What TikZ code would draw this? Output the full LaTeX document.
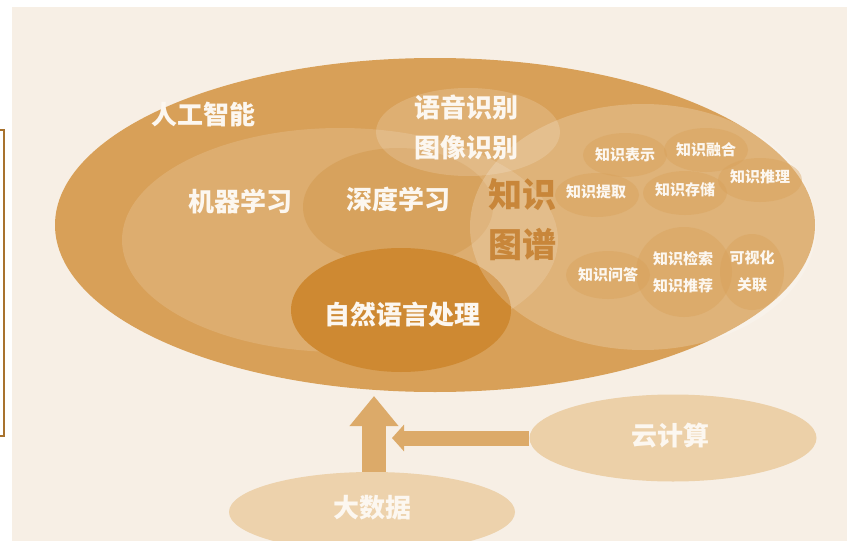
\documentclass[tikz,border=0pt]{standalone}
\usepackage{fontspec}
\newfontfamily\cjk{Noto Sans CJK SC}
\usepackage{xcolor}
\usepackage{tikz}
\usetikzlibrary{arrows.meta,positioning,shapes.geometric}
\definecolor{aiBg}{HTML}{F7EFE5}
\definecolor{aiMain}{HTML}{D8A058}
\definecolor{aiDeep}{HTML}{CF9244}
\definecolor{aiNlp}{HTML}{CE8932}
\definecolor{aiKgText}{HTML}{C8863A}
\definecolor{aiPale}{HTML}{ECD0A8}
\definecolor{aiArrow}{HTML}{DCAA69}
\definecolor{aiFrame}{HTML}{A8722E}
\definecolor{aiText}{HTML}{FCF7F0}
\tikzset{
  oval/.style={ellipse,draw=none,inner sep=0pt},
  lightoval/.style={oval,fill=white,fill opacity=0.14},
  blob/.style={oval,fill=aiMain,fill opacity=0.4},
  ttl/.style={font=\cjk\bfseries\fontsize{26}{40}\selectfont,
    text=aiText,align=center,inner sep=0pt},
  kgttl/.style={font=\cjk\bfseries\fontsize{34}{50}\selectfont,
    text=aiKgText,align=center,inner sep=0pt},
  sml/.style={font=\cjk\bfseries\fontsize{15}{27}\selectfont,
    text=aiText,align=center,inner sep=0pt},
  uparr/.style={-{Triangle[length=30pt,width=47pt]},line width=24pt,draw=aiArrow},
  sidearr/.style={-{Triangle[length=12pt,width=26pt]},line width=15pt,draw=aiArrow},
}
\begin{document}
\begin{tikzpicture}[x=1pt,y=-1pt]
  \useasboundingbox (0,0) rectangle (847,541);
  \fill[white] (0,0) rectangle (847,541);
  \fill[aiBg] (12,7) rectangle (847,541);
  \draw[aiFrame,line width=1.5pt] (0,130) -- (4,130) -- (4,436) -- (0,436);

  % big ellipses
  \node[oval,fill=aiMain,minimum width=760pt,minimum height=334pt] (ai) at (435,225) {};
  \node[lightoval,minimum width=436pt,minimum height=224pt] (ml) at (340,240) {};
  \node[oval,fill=aiDeep,fill opacity=0.4,minimum width=190pt,minimum height=118pt] (dl) at (398,207) {};
  \node[oval,fill=aiNlp,minimum width=220pt,minimum height=124pt] (nlp) at (401,310) {};
  \node[oval,fill=white,fill opacity=0.2,minimum width=346pt,minimum height=246pt] (kg) at (643,227) {};
  \node[oval,fill=white,fill opacity=0.16,minimum width=184pt,minimum height=88pt] (cv) at (468,132) {};

  % blobs inside the knowledge graph
  \node[blob,minimum width=84pt,minimum height=44pt] (b1) at (625,155) {};
  \node[blob,minimum width=84pt,minimum height=44pt] (b2) at (706,150) {};
  \node[blob,minimum width=84pt,minimum height=44pt] (b3) at (760,180) {};
  \node[blob,minimum width=84pt,minimum height=44pt] (b4) at (597,195) {};
  \node[blob,minimum width=84pt,minimum height=44pt] (b5) at (685,193) {};
  \node[blob,minimum width=84pt,minimum height=48pt] (b6) at (608,275) {};
  \node[blob,minimum width=96pt,minimum height=90pt] (b7) at (684,272) {};
  \node[blob,minimum width=64pt,minimum height=76pt] (b8) at (752,272) {};

  % lower ellipses
  \node[oval,fill=aiPale,minimum width=287pt,minimum height=87pt] (cloud) at (673,438) {};
  \node[oval,fill=aiPale!95!white,minimum width=286pt,minimum height=80pt] (data) at (372,512) {};
  \coordinate (aiFoot) at (374,396);
  \coordinate (joint) at (392,440);

  \draw[uparr] (data.north -| aiFoot) -- (aiFoot);
  \draw[sidearr] (cloud.west) -- (cloud.west -| joint);

  % labels
  \node[ttl] (tAi) at (203,115) {人工智能};
  \node[ttl] (tCv) at (466,128) {语音识别\\图像识别};
  \node[ttl] (tMl) at (240,201) {机器学习};
  \node[ttl] (tDl) at (398,199) {深度学习};
  \node[kgttl] (tKg) at (522,220) {知识\\图谱};
  \node[ttl] (tNlp) at (402,315) {自然语言处理};
  \node[ttl] (tCloud) at (670,436) {云计算};
  \node[ttl] (tData) at (372,508) {大数据};

  \node[sml] (k1) at (625,155) {知识表示};
  \node[sml] (k2) at (706,150) {知识融合};
  \node[sml] (k3) at (760,177) {知识推理};
  \node[sml] (k4) at (596,192) {知识提取};
  \node[sml] (k5) at (685,190) {知识存储};
  \node[sml] (k6) at (608,275) {知识问答};
  \node[sml] (k7) at (683,272) {知识检索\\知识推荐};
  \node[sml] (k8) at (752,271) {可视化\\关联};
\end{tikzpicture}
\end{document}
